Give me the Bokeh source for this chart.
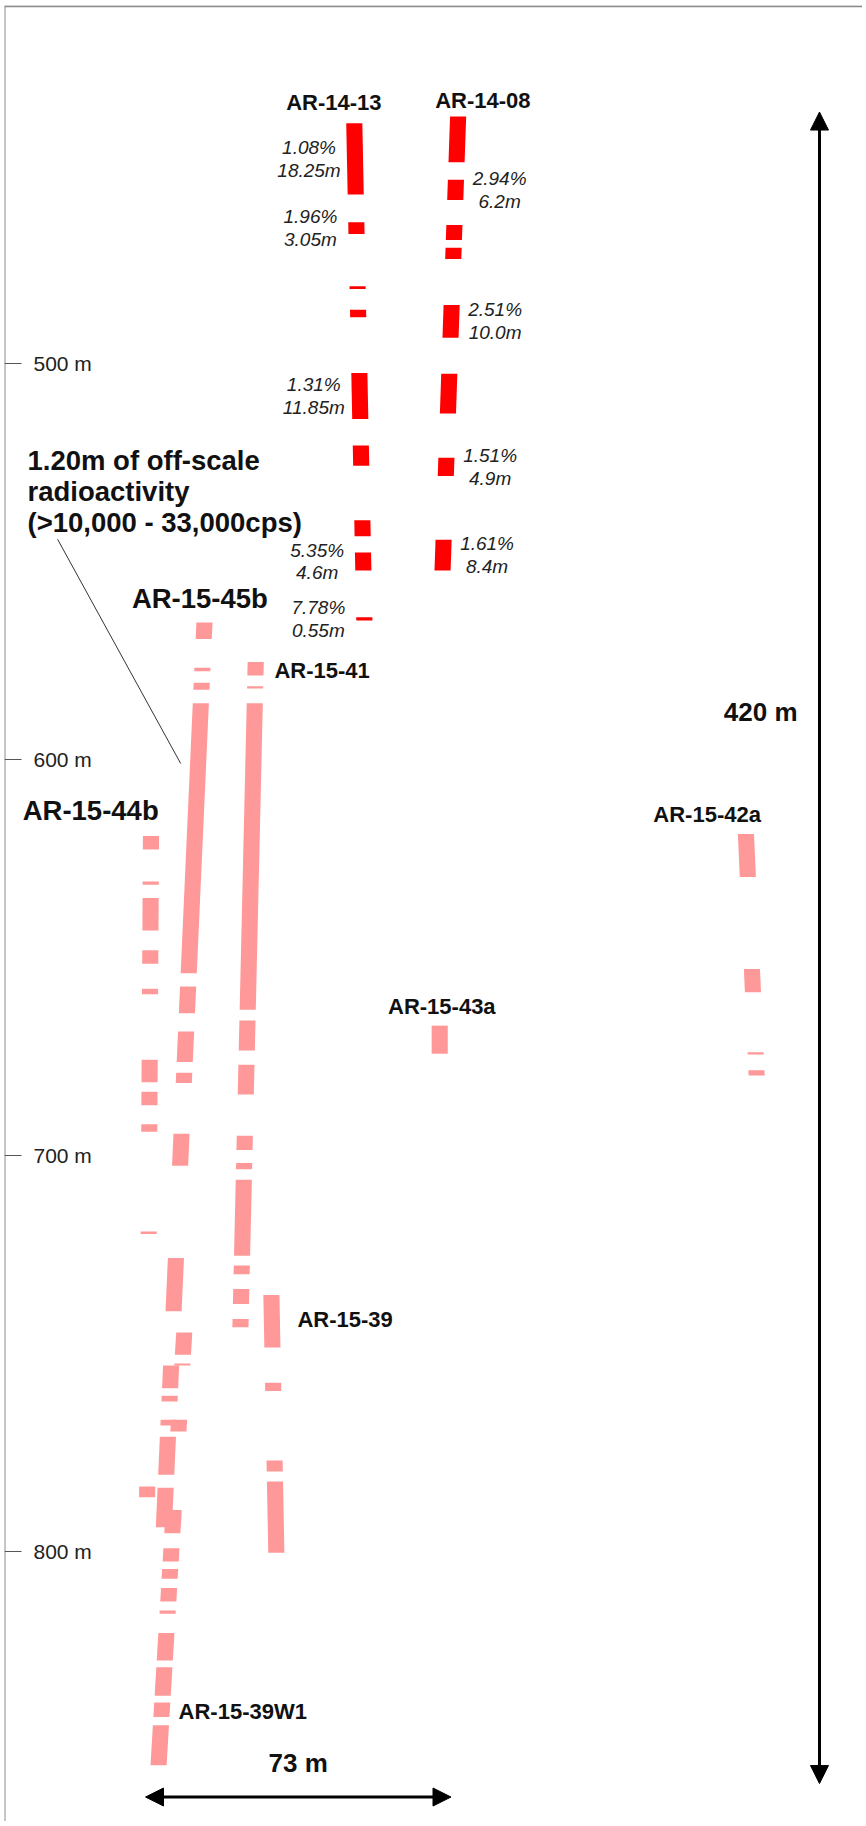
import numpy as np
from bokeh.plotting import figure
from bokeh.models import (Range1d, LinearAxis, FixedTicker, PrintfTickFormatter,
                          Arrow, NormalHead)
from bokeh.core.properties import value
from bokeh.embed import file_html
from bokeh.resources import INLINE

# ---------------- data ----------------
# depth ticks (m)
depth_ticks = [500, 600, 700, 800]

# drill holes and their traces: (depth, horizontal offset) at two points, metres
holes = ["AR-14-13", "AR-14-08", "AR-15-45b", "AR-15-41", "AR-15-44b",
         "AR-15-39", "AR-15-39W1", "AR-15-43a", "AR-15-42a"]
hole_series = ["2014", "2014", "2015", "2015", "2015", "2015", "2015", "2015", "2015"]
trace_d1 = [440.0, 437.6, 567.4, 577.0, 621.0, 741.7, 747.5, 667.0, 624.2]
trace_x1 = [49.9, 74.7, 14.0, 26.3, 1.3, 30.2, 9.1, 70.3, 143.7]
trace_d2 = [565.0, 548.5, 788.9, 742.4, 784.8, 791.4, 849.0, 674.0, 679.0]
trace_x2 = [52.3, 71.1, 4.6, 22.7, 0.4, 31.1, 3.4, 70.3, 146.0]

# mineralized intervals (from, to) in metres
ar_14_13_from = [439.3, 464.3, 480.5, 486.4, 502.4, 520.7, 539.6, 547.7, 564.1]
ar_14_13_to = [457.3, 467.3, 481.2, 488.3, 514.0, 525.8, 543.6, 552.3, 564.9]
ar_14_08_from = [437.6, 453.6, 465.0, 470.8, 485.2, 502.6, 523.8, 544.5]
ar_14_08_to = [449.2, 458.7, 468.8, 473.6, 493.5, 512.6, 528.4, 552.3]
ar_15_45b_from = [565.4, 576.8, 580.6, 585.8, 657.3, 668.7, 679.1, 694.5, 725.9,
                  753.0, 760.7, 766.7, 771.0, 783.9]
ar_15_45b_to = [569.6, 577.7, 582.4, 654.0, 664.1, 676.4, 681.7, 702.6, 739.3,
                758.8, 762.1, 768.2, 780.6, 793.9]
ar_15_41_from = [575.4, 581.5, 585.8, 665.9, 677.1, 695.0, 701.9, 706.1, 727.8, 733.7, 741.3]
ar_15_41_to = [578.8, 582.1, 663.2, 673.5, 684.6, 698.6, 703.5, 725.3, 730.0, 737.5, 743.4]
ar_15_44b_from = [619.3, 630.8, 635.0, 648.2, 657.9, 675.8, 683.9, 692.1, 719.2, 783.6]
ar_15_44b_to = [622.7, 631.6, 643.2, 651.6, 659.3, 681.5, 687.3, 694.0, 719.8, 786.3]
ar_15_39_from = [735.2, 757.4, 777.0, 782.3]
ar_15_39_to = [748.5, 759.5, 779.8, 800.3]
ar_15_39w1_from = [744.7, 752.5, 766.7, 789.5, 799.2, 804.4, 809.2, 814.9, 820.6, 829.2, 838.1, 843.9]
ar_15_39w1_to = [750.3, 753.0, 769.7, 795.4, 802.5, 806.9, 812.6, 815.7, 827.5, 836.4, 841.8, 854.0]
ar_15_43a_from = [667.2]
ar_15_43a_to = [674.3]
ar_15_42a_from = [618.8, 652.9, 673.9, 678.5]
ar_15_42a_to = [629.7, 658.8, 674.5, 679.8]

intervals = {
    "AR-14-13": (ar_14_13_from, ar_14_13_to),
    "AR-14-08": (ar_14_08_from, ar_14_08_to),
    "AR-15-45b": (ar_15_45b_from, ar_15_45b_to),
    "AR-15-41": (ar_15_41_from, ar_15_41_to),
    "AR-15-44b": (ar_15_44b_from, ar_15_44b_to),
    "AR-15-39": (ar_15_39_from, ar_15_39_to),
    "AR-15-39W1": (ar_15_39w1_from, ar_15_39w1_to),
    "AR-15-43a": (ar_15_43a_from, ar_15_43a_to),
    "AR-15-42a": (ar_15_42a_from, ar_15_42a_to),
}

# assay labels: hole, interval index, grade, length
assay_hole = ["AR-14-13"] * 5 + ["AR-14-08"] * 4
assay_idx = [0, 1, 4, 7, 8, 1, 4, 6, 7]
assay_grade = ["1.08%", "1.96%", "1.31%", "5.35%", "7.78%", "2.94%", "2.51%", "1.51%", "1.61%"]
assay_len = ["18.25m", "3.05m", "11.85m", "4.6m", "0.55m", "6.2m", "10.0m", "4.9m", "8.4m"]

scale_v_text = "420 m"
scale_h_text = "73 m"
scale_h_len = 73
note_text = "1.20m of off-scale\nradioactivity\n(>10,000 - 33,000cps)"

# ---------------- layout ----------------
PX_X, PX_Y = 4.185, 3.96          # pixels per metre
LEFT, TOP = 4, 5                  # frame offset in the page
FW, FH = 858, 1816                # frame size
X_LO = (LEFT - 145) / PX_X
X_HI = X_LO + FW / PX_X
D_TOP = 500 + (TOP - 363) / PX_Y
D_BOT = D_TOP + FH / PX_Y
BAR_W = 3.85
FONT = "Liberation Sans"
COLORS = {"2014": "#FF0000", "2015": "#FF9999"}

hole_label_x = [45.0, 80.6, 13.0, 30.8, -13.1, 36.3, 7.9, 70.8, 134.2]
hole_label_d = [434.2, 433.5, 559.3, 577.5, 612.9, 741.3, 840.5, 662.4, 613.8]
hole_label_align = ["center", "center", "center", "left", "center", "left", "left", "center", "center"]
hole_label_size = ["22px", "22px", "27.5px", "22px", "27.5px", "22px", "22px", "22px", "22px"]

p = figure(width=LEFT + FW, height=TOP + FH, x_range=Range1d(X_LO, X_HI),
           y_range=Range1d(D_BOT, D_TOP), output_backend="svg",
           toolbar_location=None, min_border=0, min_border_left=LEFT, min_border_top=TOP,
           outline_line_color=None, x_axis_location=None, y_axis_location=None,
           background_fill_color="white", border_fill_color="white")
p.grid.grid_line_color = None


def trace_x(i, d):
    d = np.asarray(d, dtype=float)
    return trace_x1[i] + (trace_x2[i] - trace_x1[i]) * (d - trace_d1[i]) / (trace_d2[i] - trace_d1[i])


# bars
for series in ["2015", "2014"]:
    xs, ys = [], []
    for i, h in enumerate(holes):
        if hole_series[i] != series:
            continue
        fr, to = intervals[h]
        for a, b in zip(fr, to):
            xa, xb = float(trace_x(i, a)), float(trace_x(i, b))
            hw = BAR_W / 2
            xs.append([xa - hw, xa + hw, xb + hw, xb - hw])
            ys.append([a, a, b, b])
    p.patches(xs=xs, ys=ys, fill_color=COLORS[series], line_color=None)

# assay labels
for side, sign, off in [("AR-14-13", -1, 46), ("AR-14-08", 1, 44)]:
    lx, ly, lt = [], [], []
    for h, k, g, L in zip(assay_hole, assay_idx, assay_grade, assay_len):
        if h != side:
            continue
        i = holes.index(h)
        fr, to = intervals[h]
        mid = (fr[k] + to[k]) / 2
        lx.append(float(trace_x(i, mid)))
        ly.append(mid)
        lt.append(g + "\n" + L)
    p.text(x=lx, y=ly, text=lt, x_offset=sign * off, text_align="center",
           text_baseline="middle", text_font=value(FONT), text_font_style="italic",
           text_font_size="19px", text_color="#222222", text_line_height=1.08)

# hole labels
for i, h in enumerate(holes):
    p.text(x=[hole_label_x[i]], y=[hole_label_d[i]], text=[h],
           text_align=hole_label_align[i], text_baseline="middle",
           text_font=value(FONT), text_font_style="bold",
           text_font_size=hole_label_size[i], text_color="#111111")

# note with leader line
p.text(x=[-28.2], y=[532.2], text=[note_text], text_align="left", text_baseline="middle",
       text_font=value(FONT), text_font_style="bold", text_font_size="27.5px",
       text_color="#111111", text_line_height=1.0)
p.segment(x0=[-21.0], y0=[544.4], x1=[8.4], y1=[601.0], line_color="#333333", line_width=1)

# scale arrows
p.add_layout(Arrow(start=NormalHead(size=18, fill_color="black", line_color="black"),
                   end=NormalHead(size=18, fill_color="black", line_color="black"),
                   x_start=161.05, y_start=436.5, x_end=161.05, y_end=858.6,
                   line_width=3, line_color="black"))
p.text(x=[147.0], y=[588.1], text=[scale_v_text], text_align="center", text_baseline="middle",
       text_font=value(FONT), text_font_style="bold", text_font_size="26px", text_color="#111111")
p.add_layout(Arrow(start=NormalHead(size=18, fill_color="black", line_color="black"),
                   end=NormalHead(size=18, fill_color="black", line_color="black"),
                   x_start=0, y_start=862.0, x_end=scale_h_len, y_end=862.0,
                   line_width=3, line_color="black"))
p.text(x=[scale_h_len / 2], y=[853.5], text=[scale_h_text], text_align="center",
       text_baseline="middle", text_font=value(FONT), text_font_style="bold",
       text_font_size="26px", text_color="#111111")

# frame: top line and depth axis along the left edge
p.segment(x0=[X_LO], y0=[D_TOP + 0.2], x1=[X_HI], y1=[D_TOP + 0.2], line_color="#8c8c8c", line_width=2)
yaxis = LinearAxis(fixed_location=X_LO, ticker=FixedTicker(ticks=depth_ticks),
                   formatter=PrintfTickFormatter(format="%d m"),
                   axis_line_color="#8c8c8c", axis_line_width=2,
                   major_tick_out=17, major_tick_in=0, major_tick_line_color="#555555",
                   minor_tick_line_color=None, major_label_standoff=12,
                   major_label_text_font=FONT, major_label_text_font_size="21px",
                   major_label_text_color="#222222")
p.add_layout(yaxis, "right")

open("out.html", "w").write(file_html(p, INLINE))
